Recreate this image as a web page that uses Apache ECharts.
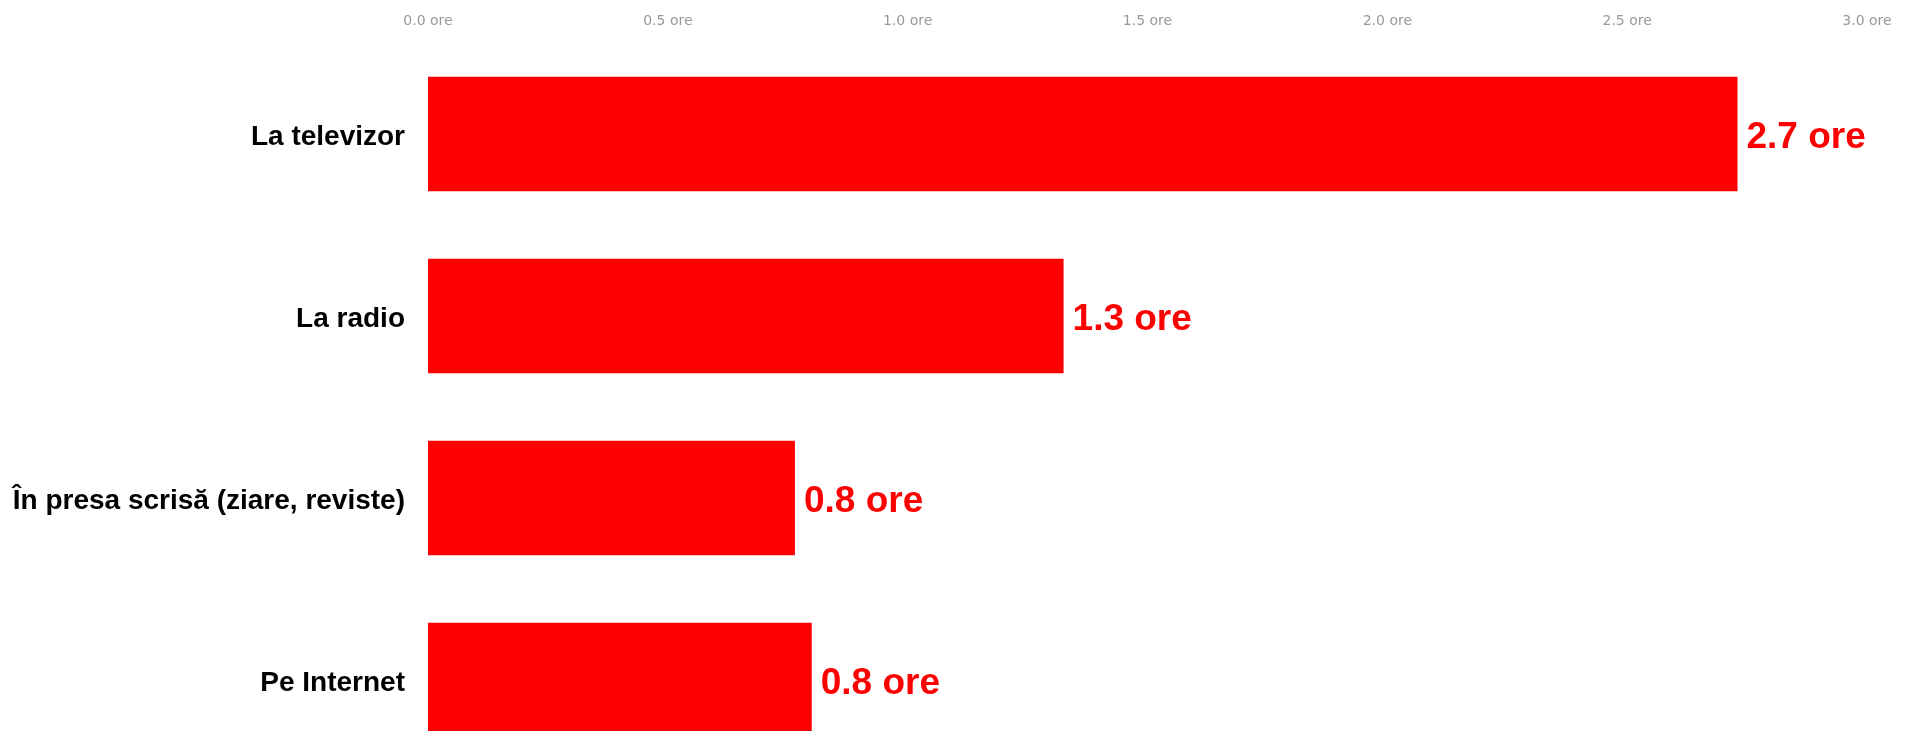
<!DOCTYPE html>
<html>
<head>
<meta charset="utf-8">
<script src="https://cdn.jsdelivr.net/npm/echarts@6/dist/echarts.min.js"></script>
<style>
  html, body { margin: 0; padding: 0; background: #fff; }
  #chart { width: 1914px; height: 731px; }
</style>
</head>
<body>
<div id="chart"></div>
<script>
// date
var categorii = ['La televizor', 'La radio', 'În presa scrisă (ziare, reviste)', 'Pe Internet'];
var ore = [2.73, 1.325, 0.765, 0.80];
var tickuri = [0, 0.5, 1, 1.5, 2, 2.5, 3];

var myChart = echarts.init(document.getElementById('chart'));

var option = {
  backgroundColor: '#fff',
  animation: false,
  // graficul e taiat jos: ultima bara iese din cadru
  grid: { left: 428, right: 47, top: 43, height: 728, outerBoundsMode: 'none', containLabel: false },
  xAxis: {
    type: 'value',
    position: 'top',
    min: tickuri[0],
    max: tickuri[tickuri.length - 1],
    interval: 0.5,
    axisLine: { show: false },
    axisTick: { show: false },
    splitLine: { show: false },
    axisLabel: {
      margin: 15,
      color: '#999',
      fontSize: 14,
      fontFamily: '"DejaVu Sans", Arial, sans-serif',
      formatter: function (v) { return v.toFixed(1) + ' ore'; }
    }
  },
  yAxis: {
    type: 'category',
    inverse: true,
    data: categorii,
    axisLine: { show: false },
    axisTick: { show: false },
    axisLabel: {
      margin: 23,
      formatter: function (v) { return '{c|' + v + '}'; },
      rich: {
        c: {
          padding: [7, 0, 0, 0],
          color: '#000',
          fontSize: 28,
          fontWeight: 'bold',
          fontFamily: '"Liberation Sans", Arial, sans-serif'
        }
      }
    }
  },
  series: [{
    type: 'bar',
    data: ore,
    barCategoryGap: '37%',
    itemStyle: { color: '#ff0000' },
    label: {
      show: true,
      position: 'right',
      distance: 9,
      offset: [0, 4],
      color: '#ff0000',
      fontSize: 37,
      fontWeight: 'bold',
      fontFamily: '"Liberation Sans", Arial, sans-serif',
      formatter: function (p) { return p.value.toFixed(1) + ' ore'; }
    }
  }]
};

myChart.setOption(option);
</script>
</body>
</html>
